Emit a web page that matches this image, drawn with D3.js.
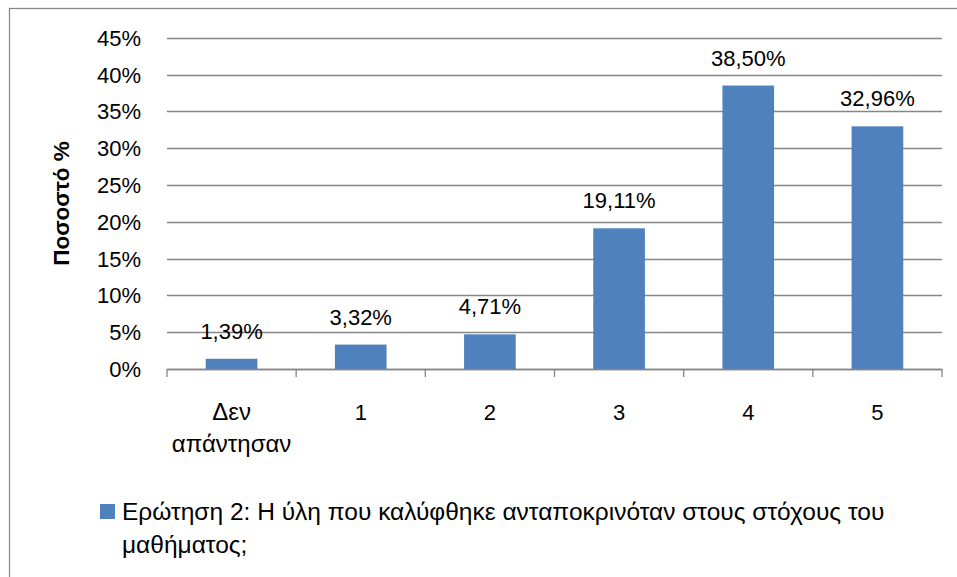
<!DOCTYPE html>
<html>
<head>
<meta charset="utf-8">
<script src="https://cdn.jsdelivr.net/npm/d3@7"></script>
<style>
  body { margin: 0; background: #fff; }
  svg text { font-family: "Liberation Sans", Arial, sans-serif; fill: #000; }
</style>
</head>
<body>
<svg width="957" height="577"></svg>
<script>
// Chart data
let categories = ['Δεν απάντησαν', '1', '2', '3', '4', '5'];
let values = [1.39, 3.32, 4.71, 19.11, 38.50, 32.96];
let yTicks = [0, 5, 10, 15, 20, 25, 30, 35, 40, 45];
let seriesName = 'Ερώτηση 2: Η ύλη που καλύφθηκε ανταποκρινόταν στους στόχους του';
let seriesName2 = 'μαθήματος;';
let yTitle = 'Ποσοστό %';

let svg = d3.select('svg');
let width = +svg.attr('width');
let height = +svg.attr('height');

let plot = { left: 167, right: 942, top: 37.7, bottom: 369 };
let barColor = '#4F81BD';
let gridColor = '#868686';
let numSize = 22;   // numbers
let textSize = 24;  // greek words

// Outer chart frame
svg.append('rect')
    .attr('x', 9.5)
    .attr('y', 8.5)
    .attr('width', width)
    .attr('height', height)
    .attr('fill', 'none')
    .attr('stroke', '#898989')
    .attr('stroke-width', 1.3);

let x = d3.scaleBand()
    .domain(categories)
    .range([plot.left, plot.right])
    .paddingInner(0.6)
    .paddingOuter(0.3);

let y = d3.scaleLinear()
    .domain([0, 45])
    .range([plot.bottom, plot.top]);

// Horizontal gridlines
svg.append('g')
    .selectAll('line')
    .data(yTicks)
    .enter().append('line')
    .attr('x1', plot.left)
    .attr('x2', plot.right)
    .attr('y1', d => Math.round(y(d)) + 0.5)
    .attr('y2', d => Math.round(y(d)) + 0.5)
    .attr('stroke', gridColor)
    .attr('stroke-width', 1.3);

// Y tick labels
svg.append('g')
    .selectAll('text')
    .data(yTicks)
    .enter().append('text')
    .attr('x', 141)
    .attr('y', d => y(d) + 8)
    .attr('text-anchor', 'end')
    .attr('font-size', numSize + 'px')
    .text(d => d + '%');

// Bars
svg.append('g')
    .selectAll('rect')
    .data(values)
    .enter().append('rect')
    .attr('x', (d, i) => x(categories[i]))
    .attr('y', d => y(d))
    .attr('width', x.bandwidth())
    .attr('height', d => y(0) - y(d))
    .attr('fill', barColor);

// X axis with tick marks between categories
let step = x.step();
let xAxis = svg.append('g');
xAxis.append('line')
    .attr('x1', plot.left)
    .attr('x2', plot.right)
    .attr('y1', y(0) + 0.5)
    .attr('y2', y(0) + 0.5)
    .attr('stroke', gridColor)
    .attr('stroke-width', 1.3);
xAxis.selectAll('.tick')
    .data(d3.range(categories.length + 1))
    .enter().append('line')
    .attr('x1', i => plot.left + i * step)
    .attr('x2', i => plot.left + i * step)
    .attr('y1', y(0))
    .attr('y2', y(0) + 8)
    .attr('stroke', gridColor)
    .attr('stroke-width', 1.3);

// Category labels (wrap on spaces)
xAxis.selectAll('.cat')
    .data(categories)
    .enter().append('text')
    .attr('text-anchor', 'middle')
    .attr('font-size', d => (isNaN(+d) ? textSize : numSize) + 'px')
    .each(function(d) {
        let words = d.split(' ');
        let cx = x(d) + x.bandwidth() / 2;
        words.forEach((w, j) => {
            d3.select(this).append('tspan')
                .attr('x', cx)
                .attr('y', 420 + j * 32)
                .text(w);
        });
    });

// Data labels
svg.append('g')
    .selectAll('text')
    .data(values)
    .enter().append('text')
    .attr('x', (d, i) => x(categories[i]) + x.bandwidth() / 2)
    .attr('y', d => y(d) - 20)
    .attr('text-anchor', 'middle')
    .attr('font-size', numSize + 'px')
    .text(d => d.toFixed(2).replace('.', ',') + '%');

// Y axis title
svg.append('text')
    .attr('transform', 'translate(' + 69 + ',' + 203.5 + ')rotate(-90)')
    .attr('text-anchor', 'middle')
    .attr('font-size', '22.5px')
    .attr('font-weight', 'bold')
    .text(yTitle);

// Legend
svg.append('rect')
    .attr('x', 100)
    .attr('y', 504)
    .attr('width', 15)
    .attr('height', 15)
    .attr('fill', barColor);
svg.append('text')
    .attr('x', 122)
    .attr('y', 520)
    .attr('font-size', '24.5px')
    .text(seriesName);
svg.append('text')
    .attr('x', 122)
    .attr('y', 553)
    .attr('font-size', '24.5px')
    .text(seriesName2);
</script>
</body>
</html>
